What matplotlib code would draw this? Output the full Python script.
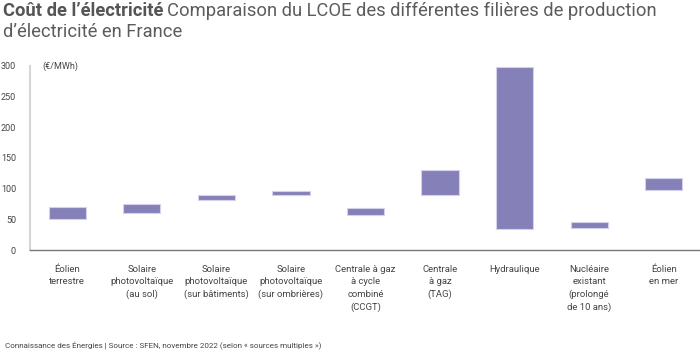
import matplotlib
matplotlib.use("Agg")
import matplotlib.pyplot as plt

# LCOE ranges (EUR/MWh)
categories = ["Éolien\nterrestre",
              "Solaire\nphotovoltaïque\n(au sol)",
              "Solaire\nphotovoltaïque\n(sur bâtiments)",
              "Solaire\nphotovoltaïque\n(sur ombrières)",
              "Centrale à gaz\nà cycle\ncombiné\n(CCGT)",
              "Centrale\nà gaz\n(TAG)",
              "Hydraulique",
              "Nucléaire\nexistant\n(prolongé\nde 10 ans)",
              "Éolien\nen mer"]
low = [50, 60, 81, 89, 57, 90, 34, 36, 98]
high = [70, 75, 90, 97, 68, 131, 298, 45, 117]
yticks = [0, 50, 100, 150, 200, 250, 300]

plt.rcParams['font.family'] = ['Roboto', 'DejaVu Sans']
txt = '#555555'

fig = plt.figure(figsize=(7, 3.53), dpi=100)
ax = fig.add_axes([30/700, 1 - 250/353, 671/700, (250 - 66)/353])

x = range(len(categories))
heights = [h - l for h, l in zip(high, low)]
ax.bar(x, heights, bottom=low, width=0.5, color='#8581b8',
       edgecolor='#d4d1ea', linewidth=0.8)

ax.set_xlim(-0.5, len(categories) - 0.5)
ax.set_ylim(0, 300)
ax.set_yticks(yticks)
ax.set_yticklabels([str(t) for t in yticks])
ax.set_xticks(list(x))
ax.set_xticklabels(categories, linespacing=1.45)
ax.tick_params(axis='y', length=0, pad=10, labelsize=6.5, labelcolor='#444444')
ax.tick_params(axis='x', length=0, pad=11, labelsize=6.8, labelcolor='#444444')

for s in ['top', 'right']:
    ax.spines[s].set_visible(False)
ax.spines['left'].set_color('#d6d6d6')
ax.spines['left'].set_linewidth(1.5)
ax.spines['bottom'].set_color('#777777')
ax.spines['bottom'].set_linewidth(1.0)

ax.text(0.018, 1.0, "(€/MWh)", transform=ax.transAxes, fontsize=6.5,
        color='#444444', va='center', ha='left')

# title: bold part followed by lighter part
t1 = fig.text(3/700, 1 - 16/353, "Coût de l’électricité", fontsize=13.2,
              fontweight='bold', color=txt, va='baseline')
fig.canvas.draw()
bb = t1.get_window_extent()
fig.text((bb.x1 + 4)/700, 1 - 16/353,
         "Comparaison du LCOE des différentes filières de production",
         fontsize=13.2, fontweight='normal', color='#5c5c5c', va='baseline')
fig.text(3/700, 1 - 37/353, "d’électricité en France", fontsize=13.2,
         fontweight='normal', color='#5c5c5c', va='baseline')

fig.text(5/700, 1 - 348/353,
         "Connaissance des Énergies | Source : SFEN, novembre 2022 (selon « sources multiples »)",
         fontsize=5.8, color='#444444', va='baseline')

fig.savefig("out.png", dpi=100)
